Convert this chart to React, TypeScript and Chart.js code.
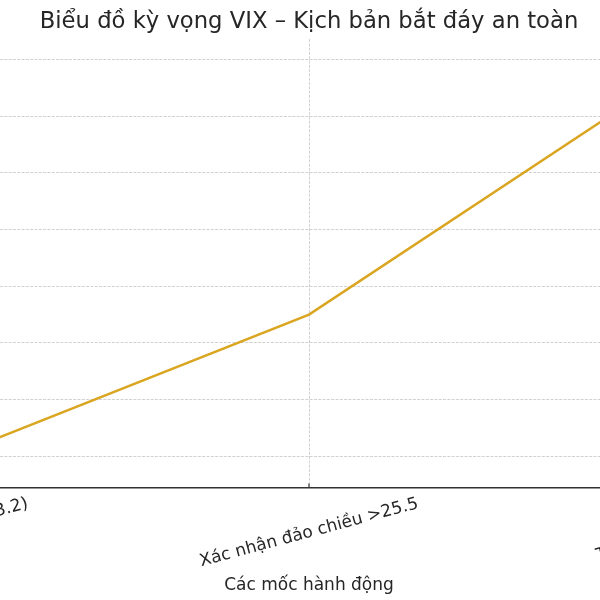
import { useEffect, useRef } from "react";
import { Chart, registerables } from "chart.js";

Chart.register(...registerables);

// ---- data ----
const TITLE = "Biểu đồ kỳ vọng VIX – Kịch bản bắt đáy an toàn";
const X_AXIS_TITLE = "Các mốc hành động";
const CATEGORIES = [
  "Mua thăm dò (VIX ~23.2)",
  "Xác nhận đảo chiều >25.5",
  "Tăng tỷ trọng (VIX >30)",
];
const VIX_VALUES = [22.8, 25.5, 30.0];
const Y_GRID_TICKS = [23, 24, 25, 26, 27, 28, 29, 30];

// ---- style ----
const FONT = "'DejaVu Sans', 'Noto Sans', sans-serif";
const TEXT_COLOR = "#262626";
const AXIS_COLOR = "#333333";
const LINE_COLOR = "#DAA520";
const GRID_COLOR = "rgba(140,140,140,0.5)";
const CANVAS_W = 1018;
const CANVAS_H = 600;
const CANVAS_LEFT = -200;
const LABEL_SIZE = 17;
const LABEL_ROT = 15;

const xMargin = (CATEGORIES.length - 1) * 0.05;
const yMinV = Math.min(...VIX_VALUES);
const yMaxV = Math.max(...VIX_VALUES);
const yMargin = (yMaxV - yMinV) * 0.05;

const rotatedLabels = {
  id: "rotatedLabels",
  afterDraw(chart: any) {
    const { ctx, chartArea, scales } = chart;
    const xs = scales.x;
    const ang = (LABEL_ROT * Math.PI) / 180;
    const lineH = LABEL_SIZE * 1.164;
    ctx.save();
    ctx.font = `${LABEL_SIZE}px ${FONT}`;
    ctx.fillStyle = TEXT_COLOR;
    ctx.strokeStyle = AXIS_COLOR;
    ctx.lineWidth = 1.2;
    CATEGORIES.forEach((label, i) => {
      const x = xs.getPixelForValue(i);
      ctx.beginPath();
      ctx.moveTo(x, chartArea.bottom);
      ctx.lineTo(x, chartArea.bottom - 4.5);
      ctx.stroke();
      const L = ctx.measureText(label).width;
      const H = L * Math.sin(ang) + lineH * Math.cos(ang);
      const cy = chartArea.bottom + 6 + H / 2;
      ctx.save();
      ctx.translate(x, cy);
      ctx.rotate(-ang);
      ctx.textAlign = "center";
      ctx.textBaseline = "middle";
      ctx.fillText(label, 0, 0);
      ctx.restore();
    });
    ctx.textAlign = "center";
    ctx.textBaseline = "alphabetic";
    ctx.fillText(X_AXIS_TITLE, (chartArea.left + chartArea.right) / 2, 590);
    ctx.restore();
  },
};

export default function App() {
  const ref = useRef<HTMLCanvasElement | null>(null);

  useEffect(() => {
    if (!ref.current) return;
    const chart = new Chart(ref.current, {
      type: "line",
      data: {
        datasets: [
          {
            label: "VIX",
            data: VIX_VALUES.map((v, i) => ({ x: i, y: v })),
            borderColor: LINE_COLOR,
            backgroundColor: LINE_COLOR,
            borderWidth: 2.5,
            pointRadius: 0,
            tension: 0,
          },
        ],
      },
      options: {
        animation: false,
        responsive: false,
        layout: { padding: { left: 84.4, right: 84.4, top: 0, bottom: 0 } },
        plugins: {
          legend: { display: false },
          tooltip: { enabled: false },
          title: {
            display: true,
            text: TITLE,
            color: TEXT_COLOR,
            font: { family: FONT, size: 22.7, weight: "normal", lineHeight: 1.2 },
            padding: { top: 8.9, bottom: 2.9 },
          },
        },
        scales: {
          x: {
            type: "linear",
            position: "bottom",
            min: -xMargin,
            max: CATEGORIES.length - 1 + xMargin,
            afterBuildTicks: (s: any) => {
              s.ticks = CATEGORIES.map((_, i) => ({ value: i }));
            },
            afterFit: (s: any) => {
              s.height = 112;
            },
            ticks: { display: false },
            grid: { color: GRID_COLOR, lineWidth: 0.8, drawTicks: false },
            border: { display: true, color: AXIS_COLOR, width: 1.4, dash: [3, 1.3] },
          },
          y: {
            type: "linear",
            min: yMinV - yMargin,
            max: yMaxV + yMargin,
            afterBuildTicks: (s: any) => {
              s.ticks = Y_GRID_TICKS.map((v) => ({ value: v }));
            },
            afterFit: (s: any) => {
              s.width = 0;
            },
            ticks: { display: false },
            grid: { color: GRID_COLOR, lineWidth: 0.8, drawTicks: false },
            border: { display: false, dash: [3, 1.3] },
          },
        },
      },
      plugins: [rotatedLabels],
    } as any);
    return () => chart.destroy();
  }, []);

  return (
    <div
      style={{
        position: "fixed",
        left: 0,
        top: 0,
        width: 600,
        height: 600,
        overflow: "hidden",
        background: "#ffffff",
      }}
    >
      <canvas
        ref={ref}
        width={CANVAS_W}
        height={CANVAS_H}
        style={{ position: "absolute", left: CANVAS_LEFT, top: 0, width: CANVAS_W, height: CANVAS_H }}
      />
    </div>
  );
}
